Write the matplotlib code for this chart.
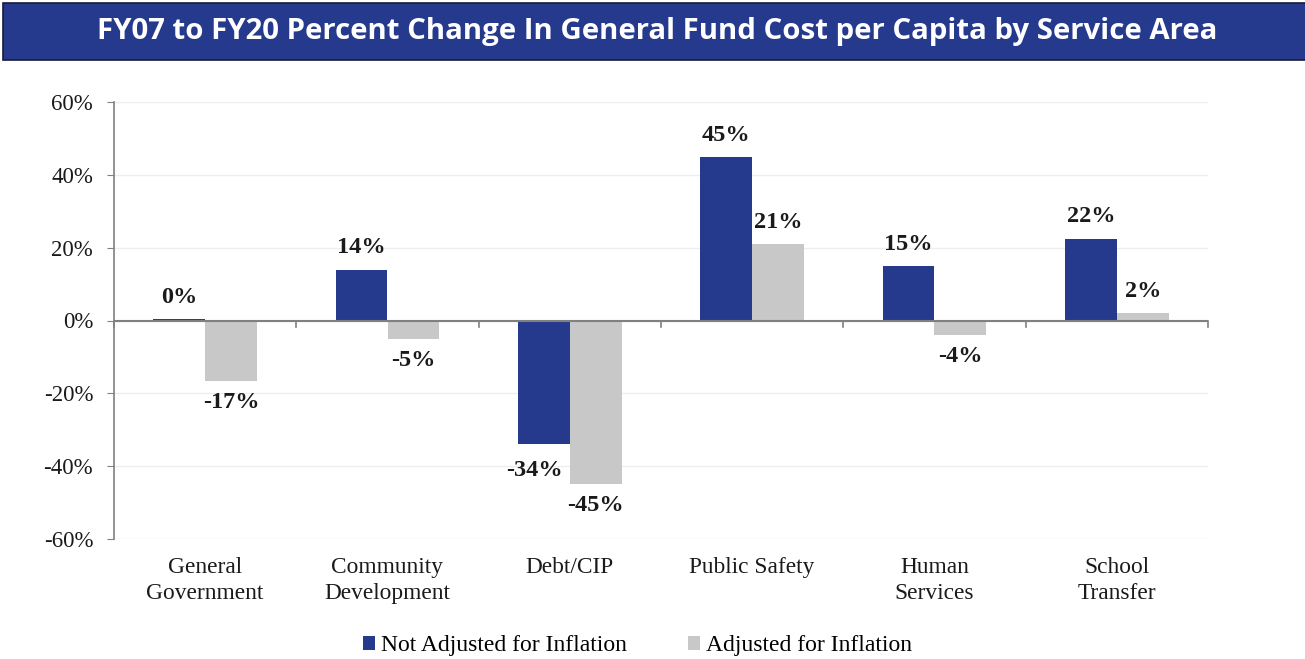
import numpy as np
import matplotlib
matplotlib.use("Agg")
import matplotlib.pyplot as plt
from matplotlib.patches import Rectangle
from matplotlib.ticker import FuncFormatter

categories = ["General\nGovernment", "Community\nDevelopment", "Debt/CIP",
              "Public Safety", "Human\nServices", "School\nTransfer"]
not_adjusted = [0.3, 14, -34, 45, 15, 22.5]
adjusted = [-16.5, -5, -45, 21, -4, 2]
not_adjusted_labels = ["0%", "14%", "-34%", "45%", "15%", "22%"]
adjusted_labels = ["-17%", "-5%", "-45%", "21%", "-4%", "2%"]
series_names = ["Not Adjusted for Inflation", "Adjusted for Inflation"]

BLUE = "#253a8c"
GREY = "#c8c8c8"
SERIF = "Liberation Serif"

fig = plt.figure(figsize=(13.05, 6.59), dpi=100)

# title banner
fig.patches.append(Rectangle((3 / 1305, 1 - 60 / 659), 1.0, 57 / 659,
                             transform=fig.transFigure, facecolor=BLUE,
                             edgecolor="#1a1a3a", linewidth=1.2))
fig.text(0.5035, 1 - 32 / 659,
         "FY07 to FY20 Percent Change In General Fund Cost per Capita by Service Area",
         ha="center", va="center", color="white", fontsize=21.2,
         fontweight="bold", family="Open Sans")

ax = fig.add_axes([114 / 1305, 1 - 539 / 659, (1208 - 114) / 1305, (539 - 102) / 659])

x = np.arange(len(categories))
w = 0.285
b1 = ax.bar(x - w / 2, not_adjusted, w, color=BLUE, label=series_names[0], zorder=3)
b2 = ax.bar(x + w / 2, adjusted, w, color=GREY, label=series_names[1], zorder=3)

for bars, labels in ((b1, not_adjusted_labels), (b2, adjusted_labels)):
    for bar, lab in zip(bars, labels):
        h = bar.get_height()
        dx, dy = (0, 8) if h >= 0 else (0, -8)
        if lab == "-34%":
            # nudged left so it clears the grey bar
            dx, dy = -7, -11
        ax.annotate(lab, (bar.get_x() + bar.get_width() / 2, h),
                    xytext=(dx, dy), textcoords="offset points",
                    ha="center", va="bottom" if h >= 0 else "top",
                    fontsize=17.5, fontweight="bold", family=SERIF, color="#1a1a1a")

ax.set_xlim(-0.5, len(categories) - 0.5)
ax.set_ylim(-60, 60)
ax.set_yticks(np.arange(-60, 61, 20))
ax.yaxis.set_major_formatter(FuncFormatter(lambda v, p: f"{v:.0f}%"))
ax.grid(axis="y", color="#eeeeee", linewidth=1, zorder=0)

for s in ("top", "right", "bottom"):
    ax.spines[s].set_visible(False)
ax.spines["left"].set_color("#808080")
ax.spines["left"].set_linewidth(1.2)
ax.axhline(0, color="#808080", linewidth=1.5, zorder=4)

# boundary ticks along the zero line
for b in np.arange(-0.5, len(categories), 1.0):
    ax.plot([b, b], [0, -1.8], color="#808080", linewidth=1.2, zorder=4, clip_on=False)

ax.set_xticks(x)
ax.set_xticklabels(categories, family=SERIF, fontsize=16.8, color="#1a1a1a",
                   linespacing=1.3)
ax.tick_params(axis="x", length=0, pad=13)
ax.tick_params(axis="y", length=5, color="#808080", labelsize=16.5, pad=10)
for t in ax.get_yticklabels():
    t.set_family(SERIF)
    t.set_color("#1a1a1a")

fig.legend(handles=[b1, b2], labels=series_names, loc="center",
           bbox_to_anchor=(0.4885, 1 - 646 / 659), ncol=2, frameon=False,
           prop={"family": SERIF, "size": 17}, handlelength=0.5, handleheight=0.5,
           handletextpad=0.25, columnspacing=2.6)

fig.savefig("out.png", dpi=100)
